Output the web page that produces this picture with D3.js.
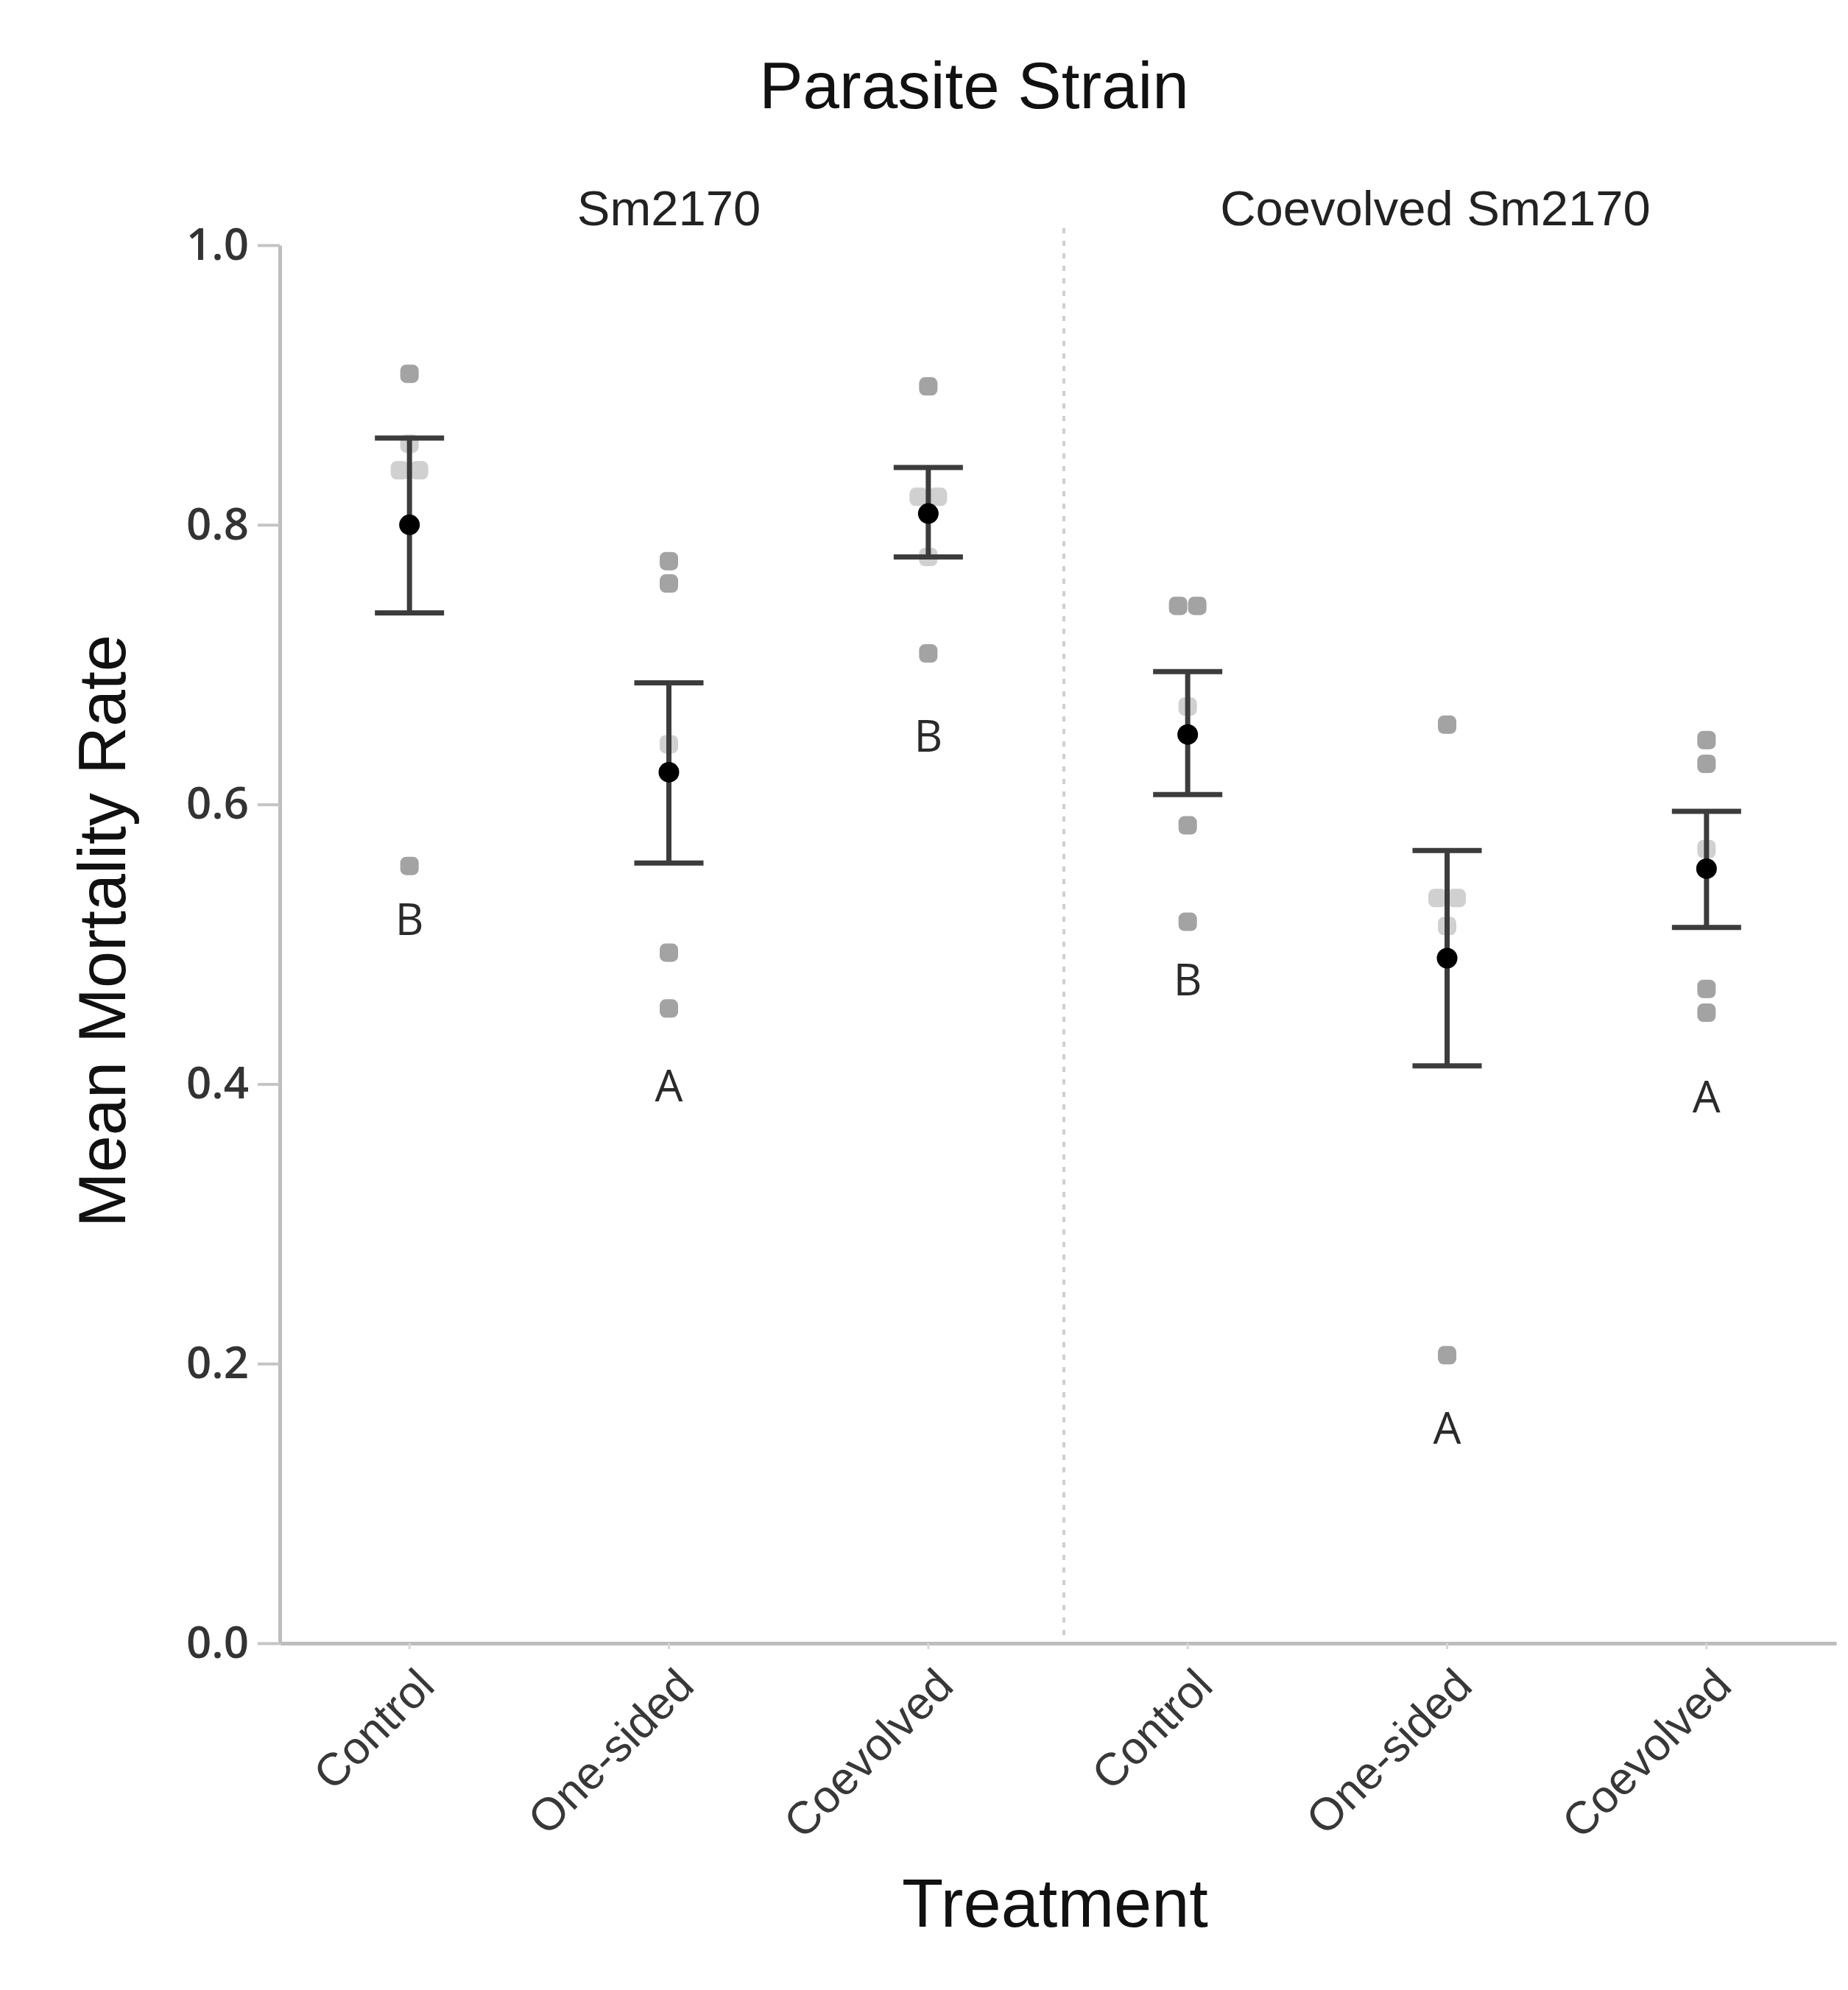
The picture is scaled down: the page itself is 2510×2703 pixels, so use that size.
<!DOCTYPE html>
<html>
<head>
<meta charset="utf-8">
<script src="https://cdn.jsdelivr.net/npm/d3@7/dist/d3.min.js"></script>
<style>
  html, body { margin: 0; padding: 0; background: #ffffff; }
  svg { display: block; }
</style>
</head>
<body>
<script>
// ---------------- data ----------------
const chartTitle = "Parasite Strain";
const panels = ["Sm2170", "Coevolved Sm2170"];
const treatments = ["Control", "One-sided", "Coevolved"];
const groupPanel = [0, 0, 0, 1, 1, 1];
const groupTreatment = [0, 1, 2, 0, 1, 2];
const means   = [0.800, 0.623, 0.808, 0.650, 0.490, 0.554];
const errLow  = [0.737, 0.558, 0.777, 0.607, 0.413, 0.512];
const errHigh = [0.862, 0.687, 0.841, 0.695, 0.567, 0.595];
const replicates = [
  [0.908, 0.858, 0.839, 0.839, 0.556],
  [0.774, 0.758, 0.643, 0.494, 0.454],
  [0.899, 0.820, 0.820, 0.777, 0.708],
  [0.742, 0.742, 0.670, 0.585, 0.516],
  [0.657, 0.533, 0.533, 0.513, 0.206],
  [0.646, 0.629, 0.568, 0.468, 0.451]
];
const letters = ["B", "A", "B", "B", "A", "A"];
const letterY = [0.518, 0.399, 0.649, 0.475, 0.154, 0.391];
const yTicks = [0.0, 0.2, 0.4, 0.6, 0.8, 1.0];
const yLabel = "Mean Mortality Rate";
const xLabel = "Treatment";

// ---------------- layout ----------------
const W = 2510, H = 2703;
const plotLeft = 380, plotRight = 2494, plotTop = 333, plotBottom = 2232;

const svg = d3.select("body").append("svg")
  .attr("width", W).attr("height", H)
  .attr("viewBox", `0 0 ${W} ${H}`);

const y = d3.scaleLinear().domain([0, 1]).range([plotBottom, plotTop]);
const x = d3.scaleBand().domain(d3.range(means.length)).range([plotLeft, plotRight]).padding(0);
const cx = i => x(i) + x.bandwidth() / 2;

const sans = "'Liberation Sans', Arial, Helvetica, sans-serif";
const humanist = "'Open Sans', 'Lato', sans-serif";

// title
svg.append("text")
  .attr("x", 1323).attr("y", 147)
  .attr("text-anchor", "middle")
  .attr("font-family", sans).attr("font-size", 89)
  .attr("fill", "#111")
  .text(chartTitle);

// panel labels
panels.forEach((p, pi) => {
  const idx = d3.range(means.length).filter(i => groupPanel[i] === pi);
  const mid = (cx(idx[0]) + cx(idx[idx.length - 1])) / 2;
  svg.append("text")
    .attr("x", mid - (pi === 1 ? 16 : 0)).attr("y", 306)
    .attr("text-anchor", "middle")
    .attr("font-family", sans).attr("font-size", 67)
    .attr("fill", "#222")
    .text(p);
});

// panel separator (dotted)
const sepX = (x(2) + x.bandwidth() + x(3)) / 2 + 8;
svg.append("line")
  .attr("x1", sepX).attr("x2", sepX)
  .attr("y1", 310).attr("y2", plotBottom - 6)
  .attr("stroke", "#cfcfcf").attr("stroke-width", 4)
  .attr("stroke-dasharray", "7 10");

// y axis
const yAxis = d3.axisLeft(y)
  .tickValues(yTicks)
  .tickFormat(d3.format(".1f"))
  .tickSize(30).tickSizeOuter(0).tickPadding(12);
const gy = svg.append("g").attr("transform", `translate(${plotLeft},0)`).call(yAxis);
gy.select(".domain").attr("stroke", "#bdbdbd").attr("stroke-width", 5);
gy.selectAll(".tick line").attr("stroke", "#c4c4c4").attr("stroke-width", 4);
gy.selectAll(".tick text")
  .attr("font-family", humanist).attr("font-weight", 600)
  .attr("font-size", 60).attr("fill", "#333");

// x axis
const xAxis = d3.axisBottom(x).tickSize(8).tickSizeOuter(0).tickFormat(i => treatments[groupTreatment[i]]);
const gx = svg.append("g").attr("transform", `translate(0,${plotBottom})`).call(xAxis);
gx.attr("font-family", sans);
gx.select(".domain").attr("stroke", "#bdbdbd").attr("stroke-width", 5);
gx.selectAll(".tick line").attr("stroke", "#d8d8d8").attr("stroke-width", 3);
gx.selectAll(".tick text")
  .style("font-family", sans).attr("font-size", 62).attr("fill", "#383838")
  .attr("text-anchor", "end")
  .attr("x", 0).attr("y", 0).attr("dy", "0.71em")
  .attr("transform", "translate(6,30) rotate(-45)");

// axis titles
svg.append("text")
  .attr("transform", `translate(170,${(plotTop + plotBottom) / 2 - 18}) rotate(-90)`)
  .attr("text-anchor", "middle")
  .attr("font-family", sans).attr("font-size", 90).attr("fill", "#111")
  .text(yLabel);

svg.append("text")
  .attr("x", (plotLeft + plotRight) / 2 - 4).attr("y", 2617)
  .attr("text-anchor", "middle")
  .attr("font-family", sans).attr("font-size", 92).attr("fill", "#111")
  .text(xLabel);

// replicate points
const pts = [];
replicates.forEach((vals, i) => {
  const counts = d3.rollup(vals, v => v.length, v => v);
  const seen = new Map();
  vals.forEach(v => {
    const n = counts.get(v);
    const k = seen.get(v) || 0;
    seen.set(v, k + 1);
    const off = n > 1 ? (k - (n - 1) / 2) * 26 : 0;
    const inside = v >= errLow[i] - 0.002 && v <= errHigh[i] + 0.002;
    pts.push({ i, v, off, inside });
  });
});
const ps = 25;
svg.append("g").selectAll("rect").data(pts).join("rect")
  .attr("x", d => cx(d.i) + d.off - ps / 2)
  .attr("y", d => y(d.v) - ps / 2)
  .attr("width", ps).attr("height", ps)
  .attr("rx", 8).attr("ry", 8)
  .attr("fill", d => d.inside ? "#d0d0d0" : "#a3a3a3");

// error bars
const capHalf = 47;
const eb = svg.append("g").attr("stroke", "#3c3c3c").attr("stroke-width", 7).attr("fill", "none");
d3.range(means.length).forEach(i => {
  eb.append("line").attr("x1", cx(i)).attr("x2", cx(i)).attr("y1", y(errLow[i])).attr("y2", y(errHigh[i]));
  eb.append("line").attr("x1", cx(i) - capHalf).attr("x2", cx(i) + capHalf).attr("y1", y(errHigh[i])).attr("y2", y(errHigh[i]));
  eb.append("line").attr("x1", cx(i) - capHalf).attr("x2", cx(i) + capHalf).attr("y1", y(errLow[i])).attr("y2", y(errLow[i]));
});

// means
svg.append("g").selectAll("circle").data(means).join("circle")
  .attr("cx", (d, i) => cx(i)).attr("cy", d => y(d))
  .attr("r", 14).attr("fill", "#000");

// significance letters
svg.append("g").selectAll("text").data(letters).join("text")
  .attr("x", (d, i) => cx(i)).attr("y", (d, i) => y(letterY[i]))
  .attr("dy", "0.36em")
  .attr("text-anchor", "middle")
  .attr("font-family", humanist).attr("font-size", 60)
  .attr("fill", "#2a2a2a")
  .text(d => d);
</script>
</body>
</html>
